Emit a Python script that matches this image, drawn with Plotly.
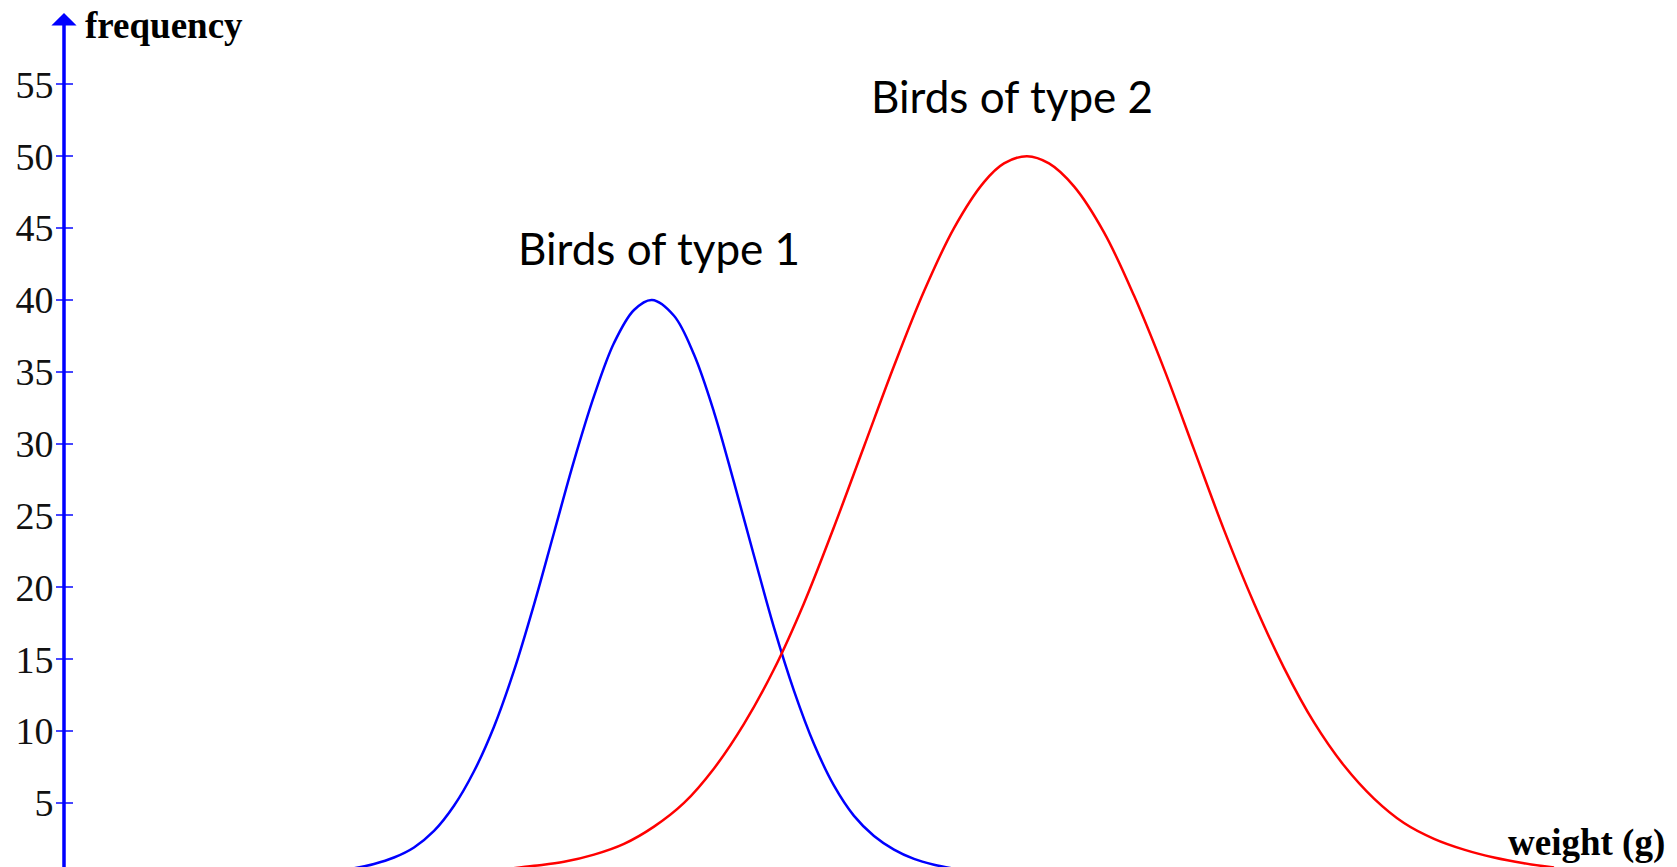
import plotly.graph_objects as go

# Weight (g) and frequency
type1_weight = [27, 29, 31, 33, 35, 37, 39, 41, 43, 45, 47, 49, 51, 53, 55, 57, 58.8,
                61, 63, 65, 67, 69, 71, 73, 75, 77, 79, 81, 83, 85, 87, 89]
type1_freq = [0.25, 0.45, 0.75, 1.2, 1.9, 3.05, 4.8, 7.2, 10.3, 14.2, 18.8, 23.8, 28.8,
              33.3, 37.0, 39.3, 40.0,
              38.9, 36.2, 32.2, 27.3, 22.2, 17.2, 12.8, 9.1, 6.2, 4.1, 2.7, 1.75, 1.1,
              0.7, 0.42]

type2_weight = [44, 47, 50, 53, 56, 59, 62, 65, 68, 71, 74, 77, 80, 83, 86, 89, 92, 94,
                96.3, 98.5, 101, 104, 107, 110, 113, 116, 119, 122, 125, 128, 131, 134,
                137, 140, 143, 146, 149]
type2_freq = [0.38, 0.62, 0.9, 1.4, 2.15, 3.35, 5.0, 7.4, 10.5, 14.3, 18.9, 24.2, 29.8,
              35.4, 40.6, 45.0, 48.2, 49.5,
              50.0, 49.5, 47.9, 44.7, 40.3, 35.2, 29.6, 24.0, 18.9, 14.4, 10.6, 7.6,
              5.3, 3.6, 2.5, 1.75, 1.2, 0.8, 0.5]

freq_ticks = [5, 10, 15, 20, 25, 30, 35, 40, 45, 50, 55]

W, H = 1677, 867
X_RANGE = [-6.4, 161.3]
Y_RANGE = [0.54, 60.87]
AXIS_POS = (0 - X_RANGE[0]) / (X_RANGE[1] - X_RANGE[0])
AXIS_BLUE = "#0000ff"
TICK_BLUE = "#4646ff"
SERIF = "Liberation Serif, Times New Roman, serif"
SANS = "Lato, Open Sans, sans-serif"

fig = go.Figure()
fig.add_trace(go.Scatter(x=type1_weight, y=type1_freq, mode="lines",
                         line=dict(color="#0000ff", width=2.5, shape="spline", smoothing=1),
                         hoverinfo="skip", showlegend=False))
fig.add_trace(go.Scatter(x=type2_weight, y=type2_freq, mode="lines",
                         line=dict(color="#ff0000", width=2.5, shape="spline", smoothing=1),
                         hoverinfo="skip", showlegend=False))
# empty traces so the tick-only overlay axes get drawn
for ax_name in ("y2", "y3"):
    fig.add_trace(go.Scatter(x=[], y=[], yaxis=ax_name, mode="lines",
                             hoverinfo="skip", showlegend=False))

axis_common = dict(range=Y_RANGE, tickmode="array", tickvals=freq_ticks,
                   showgrid=False, zeroline=False, showline=False,
                   anchor="free", position=AXIS_POS, fixedrange=True)

fig.update_layout(
    width=W, height=H, autosize=False,
    margin=dict(l=0, r=0, t=0, b=0, pad=0),
    paper_bgcolor="white", plot_bgcolor="white",
    xaxis=dict(range=X_RANGE, visible=False, domain=[0, 1], fixedrange=True),
    # labelled axis: short transparent ticks keep the numbers close to the line
    yaxis=dict(**axis_common, side="left", ticks="outside", ticklen=3,
               tickwidth=1, tickcolor="rgba(0,0,0,0)",
               tickfont=dict(family=SERIF, size=38, color="#111111")),
    # tick marks crossing the axis line on both sides
    yaxis2=dict(**axis_common, side="right", overlaying="y", ticks="outside",
                ticklen=8, tickwidth=2, tickcolor=TICK_BLUE, showticklabels=False),
    yaxis3=dict(**axis_common, side="left", overlaying="y", ticks="outside",
                ticklen=8, tickwidth=2, tickcolor=TICK_BLUE, showticklabels=False),
    annotations=[
        # vertical axis with arrowhead
        dict(x=0, y=59.97, xref="x", yref="y", ax=0, ay=0, axref="x", ayref="y",
             text="", showarrow=True, arrowhead=1, arrowsize=1.2, arrowwidth=3.5,
             arrowcolor=AXIS_BLUE),
        # horizontal axis arrowhead at the right edge
        dict(x=161.5, y=-8 / H, xref="x", yref="paper", ax=-14, ay=0,
             text="", showarrow=True, arrowhead=1, arrowsize=1.2, arrowwidth=3.5,
             arrowcolor=AXIS_BLUE),
        dict(x=83 / W, y=1 - 25.5 / H, xref="paper", yref="paper",
             xanchor="left", yanchor="middle", showarrow=False,
             text="<b>frequency</b>", font=dict(family=SERIF, size=37, color="black")),
        dict(x=1506 / W, y=1 - 842.5 / H, xref="paper", yref="paper",
             xanchor="left", yanchor="middle", showarrow=False,
             text="<b>weight (g)</b>", font=dict(family=SERIF, size=37, color="black")),
        dict(x=659 / W, y=1 - 248 / H, xref="paper", yref="paper",
             xanchor="center", yanchor="middle", showarrow=False,
             text="Birds of type 1", font=dict(family=SANS, size=44, color="black")),
        dict(x=1012 / W, y=1 - 96 / H, xref="paper", yref="paper",
             xanchor="center", yanchor="middle", showarrow=False,
             text="Birds of type 2", font=dict(family=SANS, size=44, color="black")),
    ],
)

fig.write_html("out.html")
